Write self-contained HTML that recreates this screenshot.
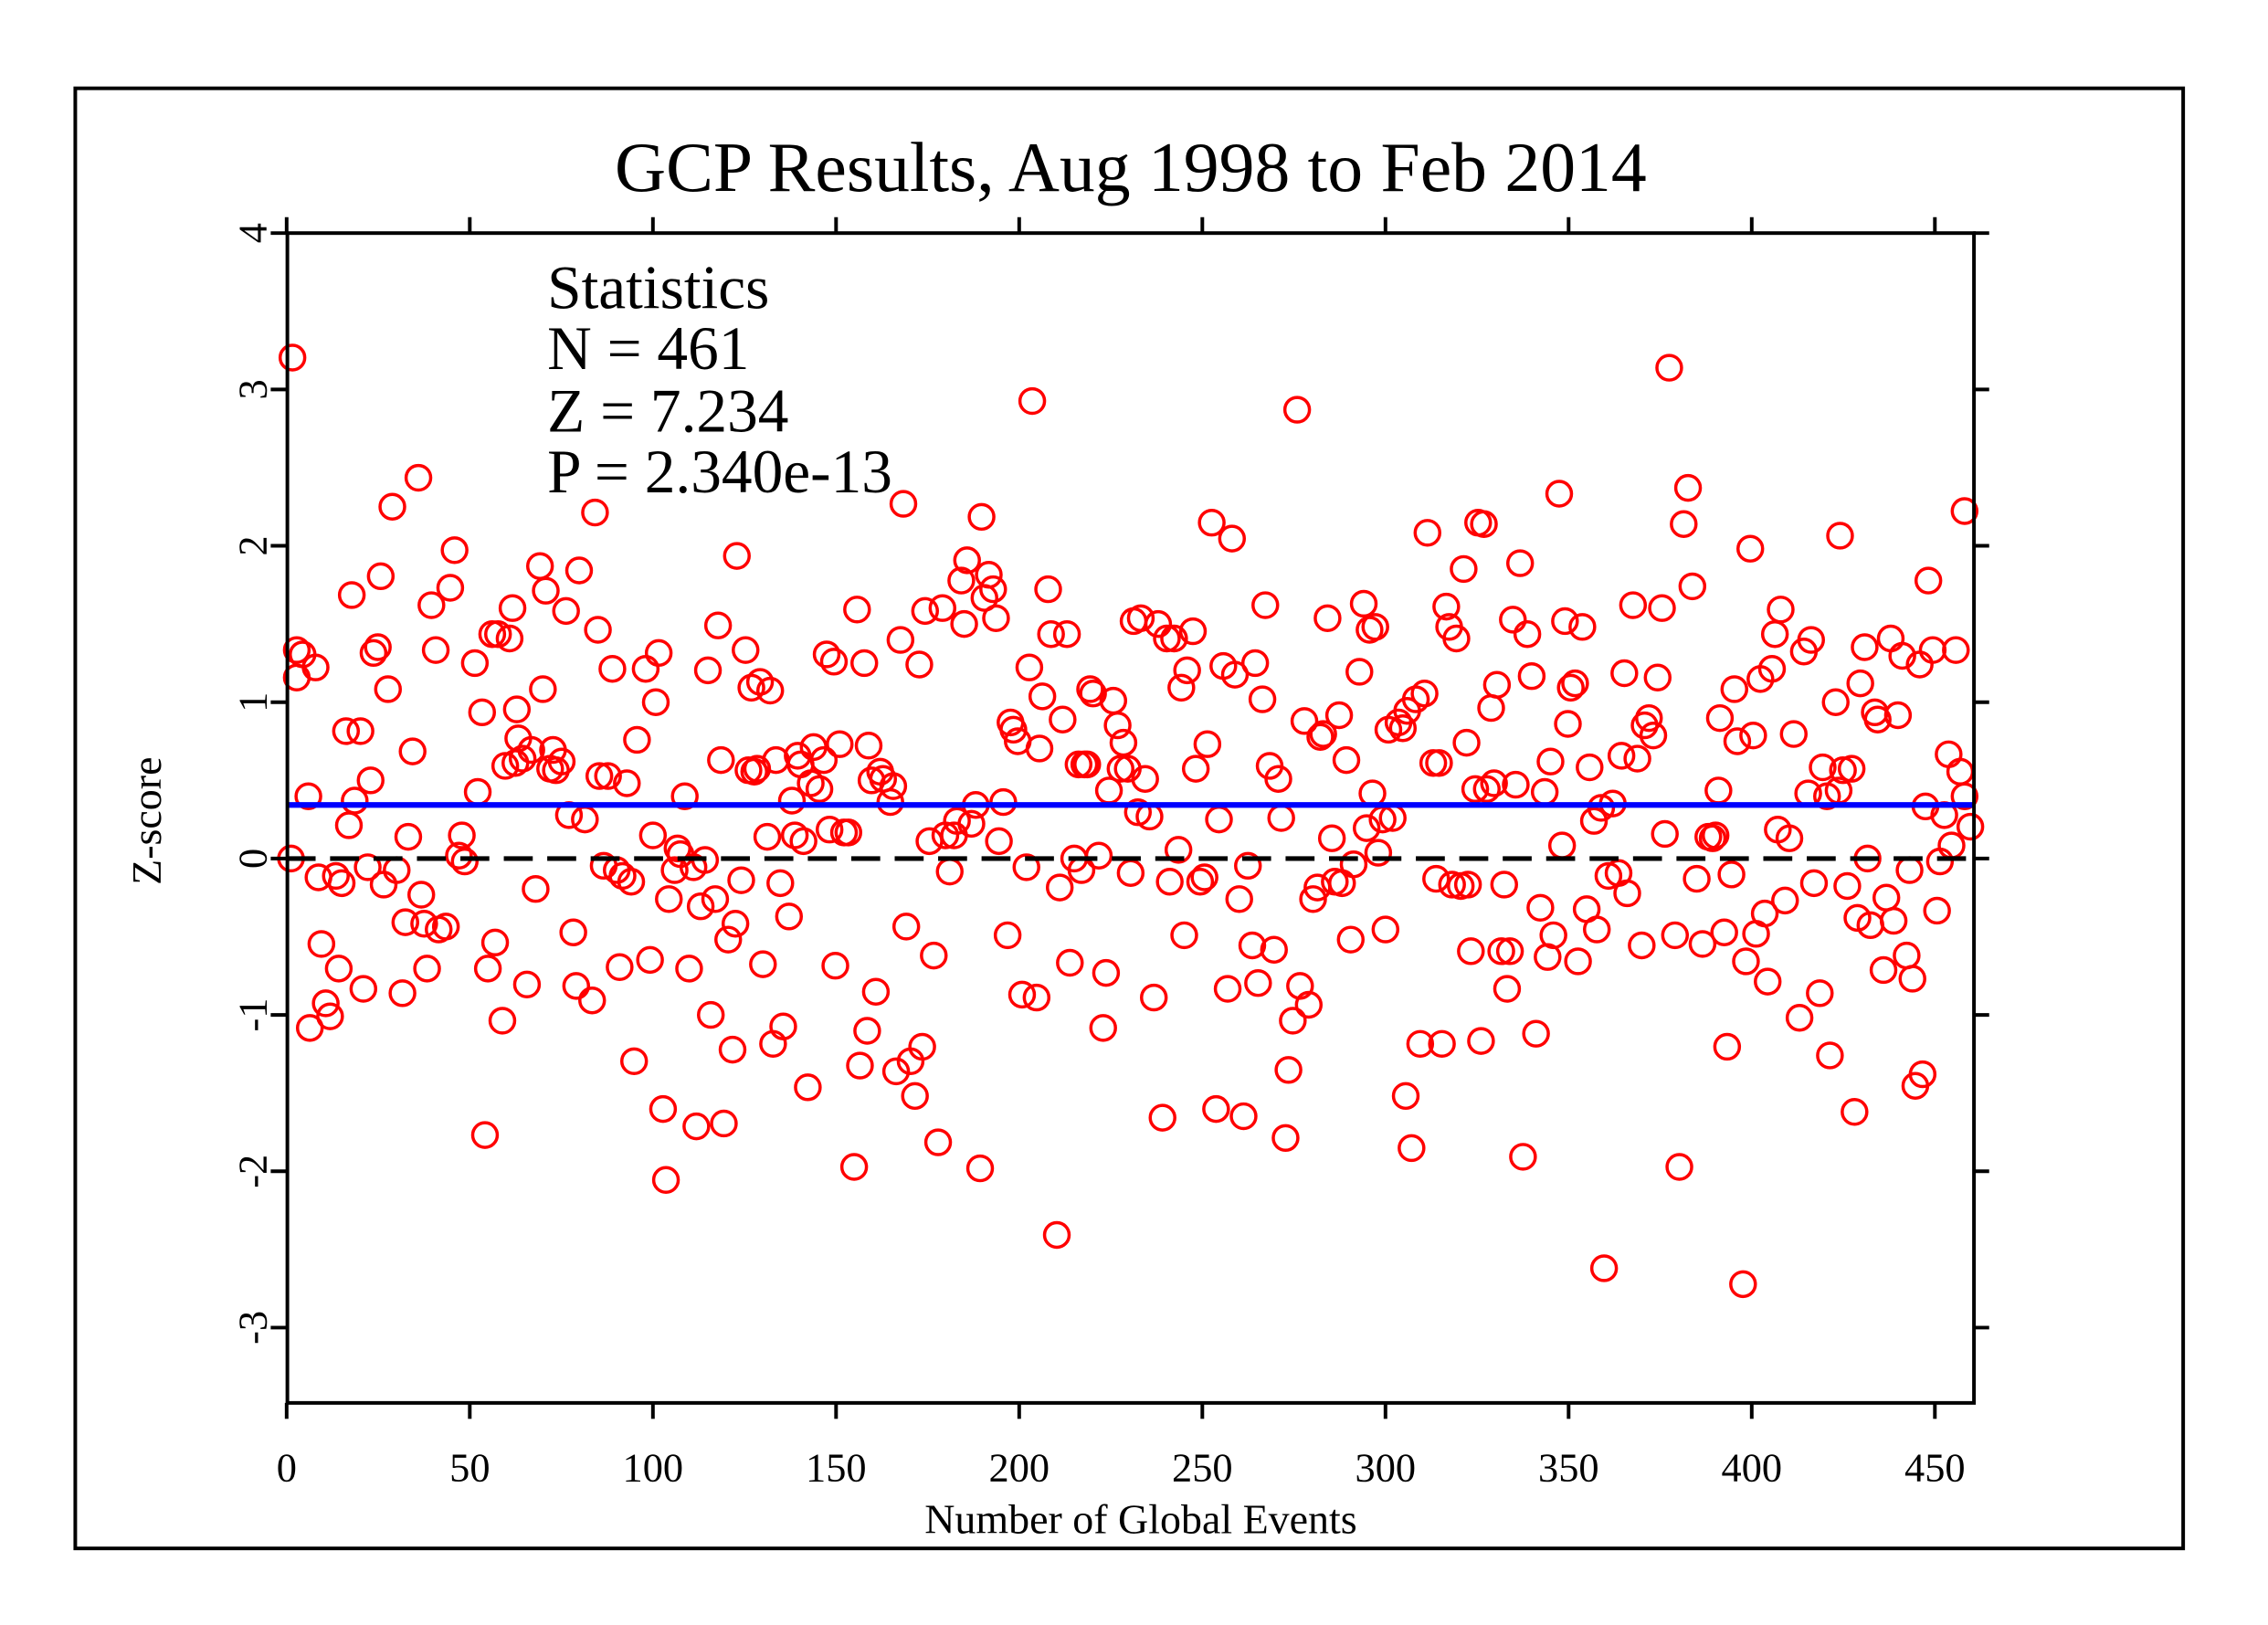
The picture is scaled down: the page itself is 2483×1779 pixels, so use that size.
<!DOCTYPE html>
<html><head><meta charset="utf-8"><style>
html,body{margin:0;padding:0;background:#fff}
svg{display:block}
text{font-family:"Liberation Serif",serif;fill:#000}
</style></head><body>
<svg id="s" width="2483" height="1779" viewBox="0 -1 1566.6 1122.4" preserveAspectRatio="none" xmlns="http://www.w3.org/2000/svg">
<rect x="0" y="-1" width="1567" height="1123" fill="#fff"/>
<rect x="52" y="60" width="1456" height="1008.5" fill="none" stroke="#000" stroke-width="2.5"/>
<text x="781" y="131" font-size="49" text-anchor="middle">GCP Results, Aug 1998 to Feb 2014</text>
<g id="pts" fill="none" stroke="#ff0000" stroke-width="2.2"></g>
<line x1="198" y1="555" x2="1363" y2="555" stroke="#0000ff" stroke-width="4"/>
<line x1="198" y1="592" x2="1363" y2="592" stroke="#000" stroke-width="3.2" stroke-dasharray="20,10"/>
<rect x="198.5" y="160" width="1165" height="808" fill="none" stroke="#000" stroke-width="2.5"/>
<g id="ticks" stroke="#000" stroke-width="2.5"></g>
<g font-size="28" text-anchor="middle">
<text x="198" y="1022">0</text><text x="324.5" y="1022">50</text><text x="451" y="1022">100</text><text x="577.5" y="1022">150</text><text x="704" y="1022">200</text><text x="830.5" y="1022">250</text><text x="957" y="1022">300</text><text x="1083.5" y="1022">350</text><text x="1210" y="1022">400</text><text x="1336.5" y="1022">450</text>
</g>
<g font-size="28" text-anchor="middle">
<text transform="translate(184,160) rotate(-90)">4</text>
<text transform="translate(184,268) rotate(-90)">3</text>
<text transform="translate(184,376) rotate(-90)">2</text>
<text transform="translate(184,484) rotate(-90)">1</text>
<text transform="translate(184,592) rotate(-90)">0</text>
<text transform="translate(184,700) rotate(-90)">-1</text>
<text transform="translate(184,808) rotate(-90)">-2</text>
<text transform="translate(184,916) rotate(-90)">-3</text>
<text transform="translate(111,566) rotate(-90)" font-size="29">Z-score</text>
</g>
<text x="788" y="1058" font-size="29" text-anchor="middle">Number of Global Events</text>
<g font-size="42.5">
<text x="378" y="212">Statistics</text>
<text x="378" y="254">N = 461</text>
<text x="378" y="297">Z = 7.234</text>
<text x="378" y="339">P = 2.340e-13</text>
</g>
</svg>
<script>
var d=[201,592,202,246,205,467,205,448,209,451,213,549,214,709,218,460,220,605,222,651,225,692,228,701,232,604,234,668,236,609,239,504,241,569,243,410,245,552,249,504,251,682,254,598,256,538,258,450,261,446,263,397,265,610,268,475,271,349,274,600,278,685,280,636,282,577,285,518,289,329,291,617,293,637,295,668,298,417,301,448,303,641,308,639,311,405,314,379,317,590,319,576,321,594,328,457,330,546,333,491,335,783,337,668,340,437,342,650,344,437,347,704,349,528,352,440,354,419,356,526,357,489,358,509,361,523,364,679,367,517,370,613,373,390,375,475,377,407,380,530,382,517,384,531,388,525,391,421,393,562,396,643,398,680,400,393,404,565,409,690,411,353,413,434,414,535,417,597,420,535,423,461,426,600,428,667,430,604,433,540,436,608,438,732,440,510,446,461,449,662,451,576,453,484,455,450,458,765,460,814,462,620,466,600,468,585,470,589,473,549,476,668,479,598,481,777,484,625,487,593,489,462,491,700,494,620,496,431,498,524,500,775,503,648,506,724,508,637,509,383,512,607,515,448,517,531,519,474,521,532,523,530,525,470,527,665,530,577,532,476,534,720,536,524,539,609,541,708,545,632,547,552,549,576,551,521,553,527,555,580,558,750,560,540,562,515,566,544,569,524,571,451,573,572,576,456,577,666,580,513,583,574,586,574,590,805,592,420,594,735,597,457,599,711,600,514,602,538,605,684,608,532,610,537,615,553,617,542,619,739,622,441,624,347,626,639,629,732,632,756,635,458,637,722,639,421,642,580,645,659,648,788,651,419,653,576,656,601,659,576,661,566,664,400,666,430,668,386,671,568,674,555,677,806,678,356,680,412,683,396,686,406,688,426,690,580,693,553,696,645,698,498,700,503,703,511,706,686,709,598,711,460,713,276,716,688,718,516,720,480,724,406,726,437,730,852,732,612,734,496,737,437,739,664,742,592,745,527,747,600,749,527,751,527,753,475,755,478,759,590,762,709,764,671,766,545,769,483,772,500,774,530,776,512,779,530,781,602,783,428,786,560,788,426,791,537,794,563,797,688,800,430,803,771,806,440,808,608,811,440,814,586,816,474,818,645,820,462,824,435,826,530,829,608,832,605,834,513,837,360,840,765,842,565,845,459,848,682,851,371,853,465,856,620,859,770,862,597,865,652,867,457,869,678,872,482,874,417,877,528,880,655,883,537,885,564,888,785,890,738,893,704,896,282,898,680,901,497,904,693,907,620,910,612,912,508,914,506,917,426,920,578,922,608,925,493,927,609,930,524,933,648,935,596,939,463,942,416,944,571,946,434,948,547,950,432,952,588,955,565,957,641,959,503,962,564,966,498,969,502,971,756,972,490,975,792,978,482,981,720,984,478,986,367,990,526,992,606,994,526,996,720,999,418,1001,432,1003,610,1006,440,1009,611,1011,392,1013,512,1014,610,1016,656,1019,544,1021,360,1023,718,1025,361,1027,544,1030,488,1032,540,1034,472,1037,656,1039,610,1041,682,1043,656,1045,427,1047,541,1050,388,1052,798,1055,437,1058,466,1061,713,1064,626,1067,546,1069,660,1071,525,1073,645,1077,340,1079,583,1081,428,1083,499,1085,474,1088,471,1090,663,1093,432,1096,627,1098,529,1101,566,1103,641,1106,557,1108,875,1111,604,1114,554,1118,602,1120,521,1122,464,1124,616,1128,417,1131,523,1134,652,1136,500,1139,495,1142,507,1145,467,1148,419,1150,575,1153,253,1157,645,1160,805,1163,361,1166,336,1169,404,1172,606,1176,651,1180,577,1183,578,1185,576,1187,545,1188,495,1191,643,1193,722,1196,603,1198,475,1200,511,1204,886,1206,663,1209,378,1211,507,1213,644,1216,468,1219,630,1221,677,1224,461,1226,437,1228,572,1230,420,1233,621,1236,578,1239,506,1243,702,1246,449,1249,547,1251,441,1253,609,1257,685,1259,529,1262,549,1264,728,1268,484,1270,545,1271,369,1273,531,1276,611,1279,530,1281,767,1283,633,1285,471,1288,446,1290,592,1292,638,1295,491,1297,496,1301,669,1303,619,1306,440,1308,635,1311,493,1314,452,1317,659,1319,600,1321,675,1323,749,1326,458,1328,741,1330,556,1332,400,1335,448,1338,628,1340,594,1343,562,1346,520,1348,583,1351,448,1354,532,1357,549,1357,352,1361,570];
var ns="http://www.w3.org/2000/svg",g=document.getElementById("pts");
for(var i=0;i<d.length;i+=2){var c=document.createElementNS(ns,"circle");c.setAttribute("cx",d[i]);c.setAttribute("cy",d[i+1]);c.setAttribute("r",8.5);g.appendChild(c);}
var t=document.getElementById("ticks");
function L(a,b,c,e){var l=document.createElementNS(ns,"line");l.setAttribute("x1",a);l.setAttribute("y1",b);l.setAttribute("x2",c);l.setAttribute("y2",e);t.appendChild(l);}
for(var k=0;k<=9;k++){var x=198+k*126.5;L(x,968,x,979);L(x,160,x,149);}
for(var k=0;k<8;k++){var y=160+k*108;L(198,y,187,y);L(1363,y,1374,y);}
</script>
</body></html>
